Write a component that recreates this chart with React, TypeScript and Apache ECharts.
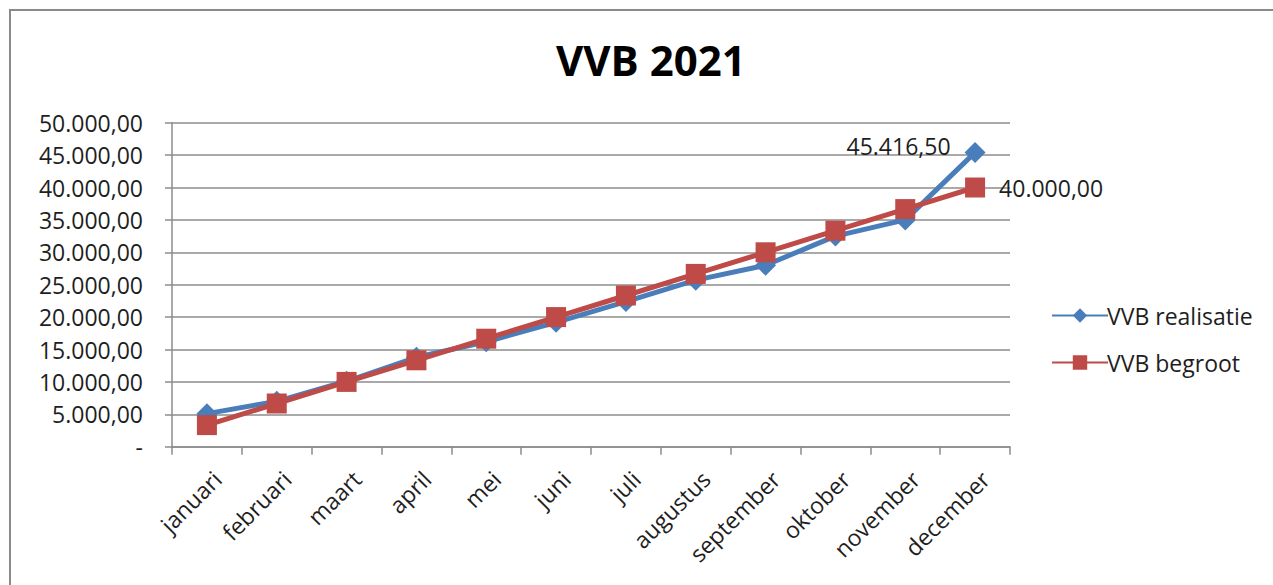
import React, { useEffect, useRef } from "react";
import * as echarts from "echarts";

const months = [
  "januari", "februari", "maart", "april", "mei", "juni",
  "juli", "augustus", "september", "oktober", "november", "december",
];
const realisatie = [5100, 7000, 10100, 13800, 16200, 19200, 22400, 25700, 28000, 32500, 35000, 45416.5];
const begroot = [3333.33, 6666.67, 10000, 13333.33, 16666.67, 20000, 23333.33, 26666.67, 30000, 33333.33, 36666.67, 40000];
const yTicks = { min: 0, max: 50000, interval: 5000 };

const FONT = "'Open Sans', 'Noto Sans', sans-serif";
const TEXT = "#1e1e1e";
const GRID = "#8c8c8c";

function fmt(v: number): string {
  if (v === 0) return "-";
  const fixed = v.toFixed(2);
  const [intPart, dec] = fixed.split(".");
  const withDots = intPart.replace(/\B(?=(\d{3})+(?!\d))/g, ".");
  return withDots + "," + dec;
}

export default function App() {
  const ref = useRef<HTMLDivElement>(null);
  useEffect(() => {
    if (!ref.current) return;
    const chart = echarts.init(ref.current, null, { renderer: "svg" });
    const last = months.length - 1;
    chart.setOption({
      animation: false,
      backgroundColor: "#ffffff",
      textStyle: { fontFamily: FONT },
      title: {
        text: "VVB 2021",
        left: 551,
        top: 33,
        textStyle: { fontFamily: FONT, fontSize: 42, fontWeight: "bold", color: "#000" },
      },
      graphic: [
        {
          type: "polyline",
          shape: { points: [[10, 585], [10, 10], [1273, 10]] },
          style: { stroke: "#8a8a8a", lineWidth: 2, fill: "none" },
          silent: true,
        },
      ],
      legend: {
        orient: "vertical",
        left: 1046,
        top: 299,
        itemWidth: 56,
        itemHeight: 18,
        itemGap: 24,
        textStyle: { fontFamily: FONT, fontSize: 23, color: TEXT, padding: [0, 0, 0, -6] },
        data: ["VVB realisatie", "VVB begroot"],
      },
      grid: { left: 172, right: 263, top: 122.7, bottom: 138.3, containLabel: false },
      xAxis: {
        type: "category",
        data: months,
        boundaryGap: true,
        axisLine: { lineStyle: { color: GRID, width: 1.5 } },
        axisTick: { show: true, length: 8, alignWithLabel: false, lineStyle: { color: GRID, width: 1.5 } },
        axisLabel: {
          rotate: 45, fontSize: 23, color: TEXT, fontFamily: FONT, margin: 18, interval: 0,
          verticalAlign: "top", padding: [3, 0, 0, 0],
        },
      },
      yAxis: {
        type: "value",
        min: yTicks.min,
        max: yTicks.max,
        interval: yTicks.interval,
        axisLine: { show: true, lineStyle: { color: GRID, width: 1.5 } },
        axisTick: { show: true, length: 7, lineStyle: { color: GRID, width: 1.5 } },
        splitLine: { show: true, lineStyle: { color: GRID, width: 1.5 } },
        axisLabel: { fontSize: 23, color: TEXT, fontFamily: FONT, margin: 29, formatter: (v: number) => fmt(v) },
      },
      series: [
        {
          name: "VVB realisatie",
          type: "line",
          data: realisatie.map((v, i) =>
            i === last
              ? { value: v, label: { show: true, position: "left", distance: 14, formatter: () => fmt(v) } }
              : v
          ),
          symbol: "diamond",
          symbolSize: 21,
          lineStyle: { color: "#4a7ebb", width: 5 },
          itemStyle: { color: "#4a7ebb" },
          label: { show: false, fontSize: 23, color: TEXT, fontFamily: FONT, offset: [0, -6] },
          z: 2,
        },
        {
          name: "VVB begroot",
          type: "line",
          data: begroot.map((v, i) =>
            i === last
              ? { value: v, label: { show: true, position: "right", distance: 14, formatter: () => fmt(v) } }
              : v
          ),
          symbol: "rect",
          symbolSize: 20,
          lineStyle: { color: "#be4b48", width: 5 },
          itemStyle: { color: "#be4b48" },
          label: { show: false, fontSize: 23, color: TEXT, fontFamily: FONT },
          z: 3,
        },
      ],
    });
    return () => chart.dispose();
  }, []);
  return (
    <div
      ref={ref}
      style={{ position: "fixed", left: 0, top: 0, width: 1273, height: 585, background: "#fff" }}
    />
  );
}
